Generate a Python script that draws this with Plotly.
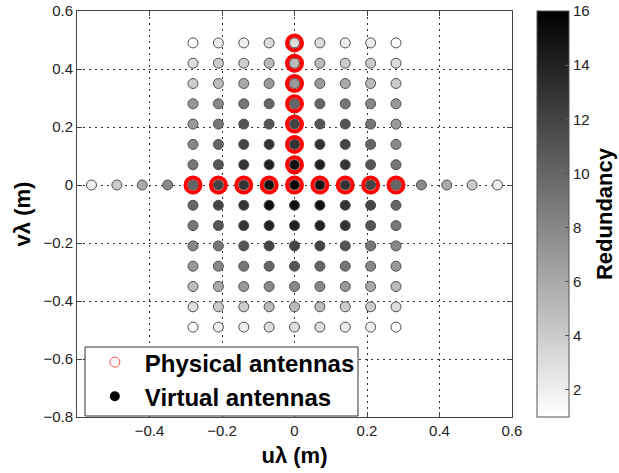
import plotly.graph_objects as go

# ---- data ----
u_cols = [-0.28, -0.21, -0.14, -0.07, 0.0, 0.07, 0.14, 0.21, 0.28]
v_rows = [0.49, 0.42, 0.35, 0.28, 0.21, 0.14, 0.07, 0.0,
          -0.07, -0.14, -0.21, -0.28, -0.35, -0.42, -0.49]
redundancy = [
    [1, 2, 2, 3, 3, 3, 2, 2, 1],
    [3, 4, 4, 5, 5, 5, 4, 4, 3],
    [4, 5, 6, 7, 7, 7, 6, 5, 4],
    [7, 8, 9, 10, 10, 10, 9, 8, 7],
    [7, 9, 11, 11, 12, 11, 11, 9, 7],
    [8, 10, 12, 13, 13, 13, 12, 10, 8],
    [9, 11, 13, 14, 15, 14, 13, 11, 9],
    [10, 12, 13, 15, 16, 15, 13, 12, 10],
    [10, 12, 13, 15, 15, 15, 13, 12, 10],
    [9, 11, 13, 14, 14, 14, 13, 11, 9],
    [8, 9, 11, 12, 12, 12, 11, 9, 8],
    [7, 8, 9, 10, 11, 10, 9, 8, 7],
    [5, 6, 7, 8, 8, 8, 7, 6, 5],
    [3, 4, 4, 5, 5, 5, 4, 4, 3],
    [1, 2, 2, 3, 3, 3, 2, 2, 1],
]
# extension of the v = 0 row
u_ext = [-0.56, -0.49, -0.42, -0.35, 0.35, 0.42, 0.49, 0.56]
red_ext = [2, 4, 6, 8, 8, 6, 4, 2]

# physical antennas (T-shaped array)
phys_u = [-0.28, -0.21, -0.14, -0.07, 0.0, 0.07, 0.14, 0.21, 0.28,
          0.0, 0.0, 0.0, 0.0, 0.0, 0.0, 0.0]
phys_v = [0.0, 0.0, 0.0, 0.0, 0.0, 0.0, 0.0, 0.0, 0.0,
          0.07, 0.14, 0.21, 0.28, 0.35, 0.42, 0.49]

# ---- build virtual points ----
vx, vy, vc = [], [], []
for i, v in enumerate(v_rows):
    for j, u in enumerate(u_cols):
        vx.append(u); vy.append(v); vc.append(redundancy[i][j])
for u, r in zip(u_ext, red_ext):
    vx.append(u); vy.append(0.0); vc.append(r)

font_family = "Liberation Sans, Arial, sans-serif"

fig = go.Figure()
fig.add_trace(go.Scatter(
    x=vx, y=vy, mode="markers", showlegend=False,
    marker=dict(size=10, color=vc, cmin=1, cmax=16,
                colorscale=[[0, "#ffffff"], [1, "#000000"]],
                line=dict(color="#505050", width=1),
                colorbar=dict(
                    x=1.057, xanchor="left", xref="paper",
                    y=0.5, yanchor="middle", len=1.0, lenmode="fraction",
                    xpad=0, ypad=0,
                    thickness=32, thicknessmode="pixels",
                    outlinecolor="#555555", outlinewidth=1,
                    tickmode="array", tickvals=[2, 4, 6, 8, 10, 12, 14, 16],
                    ticks="inside", ticklen=4, tickcolor="#555555",
                    ticklabeloverflow="allow",
                    tickfont=dict(size=15, color="#222222", family=font_family),
                    title=dict(text="<b>Redundancy</b>", side="right",
                               font=dict(size=22, color="#000000", family=font_family)),
                ))))
fig.add_trace(go.Scatter(
    x=phys_u, y=phys_v, mode="markers", showlegend=False,
    marker=dict(symbol="circle-open", size=15, color="#ff0000",
                line=dict(color="#ff0000", width=4))))

# legend entries
fig.add_trace(go.Scatter(
    x=[None], y=[None], mode="markers", name="<b>Physical antennas</b>",
    marker=dict(symbol="circle-open", size=10, color="#ff5050",
                line=dict(color="#ff5050", width=1))))
fig.add_trace(go.Scatter(
    x=[None], y=[None], mode="markers", name="<b>Virtual antennas</b>",
    marker=dict(symbol="circle", size=10, color="#000000")))

axis_common = dict(
    showline=True, linecolor="#444444", linewidth=1, mirror="ticks",
    ticks="inside", ticklen=5, tickcolor="#444444",
    showgrid=True, gridcolor="#333333", gridwidth=1, griddash="2px,4px",
    zeroline=False, ticklabeloverflow="allow",
    tickfont=dict(size=15, color="#222222", family=font_family),
)

fig.update_layout(
    width=619, height=473,
    margin=dict(l=77, r=107, t=11, b=56, autoexpand=False),
    paper_bgcolor="white", plot_bgcolor="white",
    font=dict(family=font_family),
    xaxis=dict(range=[-0.6, 0.6], tickvals=[-0.4, -0.2, 0, 0.2, 0.4, 0.6],
               ticktext=["\u22120.4", "\u22120.2", "0", "0.2", "0.4", "0.6"],
               title=dict(text="<b>u\u03bb (m)</b>", standoff=9,
                          font=dict(size=22, color="#000000", family=font_family)),
               **axis_common),
    yaxis=dict(range=[-0.8, 0.6],
               tickvals=[-0.8, -0.6, -0.4, -0.2, 0, 0.2, 0.4, 0.6],
               ticktext=["\u22120.8", "\u22120.6", "\u22120.4", "\u22120.2", "0", "0.2", "0.4", "0.6"],
               title=dict(text="<b>v\u03bb (m)</b>", standoff=6,
                          font=dict(size=22, color="#000000", family=font_family)),
               **axis_common),
    legend=dict(x=0.018, y=-0.005, xanchor="left", yanchor="bottom",
                bgcolor="rgba(0,0,0,0)", borderwidth=0,
                font=dict(size=24, color="#000000", family=font_family),
                itemwidth=50, tracegroupgap=0),
    shapes=[dict(type="rect", xref="paper", yref="paper",
                 x0=0.0184, x1=0.646, y0=0.0025, y1=0.1724,
                 line=dict(color="#333333", width=1),
                 fillcolor="white", layer="above")],
)

fig.write_html("out.html", config={"displayModeBar": False},
               post_script="document.body.style.margin='0px';")
